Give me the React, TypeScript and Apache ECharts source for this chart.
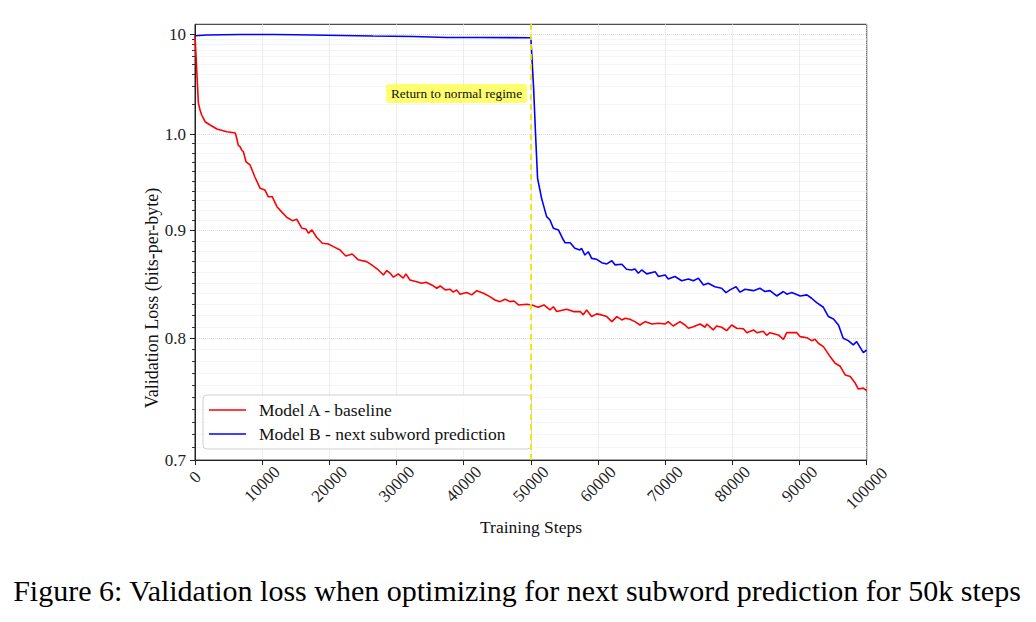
import React, { useEffect, useRef } from 'react';
import * as echarts from 'echarts';

// ---------- data ----------
const stepsA = [0, 500, 750, 1000, 1250, 1500, 2250, 3250, 4750, 6000, 6200, 6450, 6700, 6950, 7200, 7600, 8200, 8900, 9700, 10400, 10900, 11500, 12200, 12900, 13650, 14500, 15150, 15900, 16500, 16900, 17400, 18100, 18950, 19850, 20600, 21600, 22450, 23400, 24300, 25550, 26300, 27300, 28050, 28550, 29050, 29550, 30250, 31000, 31400, 32000, 33000, 33750, 34400, 35250, 36000, 36500, 37250, 37950, 38450, 38950, 39450, 40450, 41200, 41950, 42950, 43900, 44650, 45400, 46150, 46900, 47500, 48150, 49400, 50150, 51100, 51950, 52850, 53350, 53850, 55350, 56350, 57350, 57800, 58300, 59050, 59800, 60550, 61300, 62050, 62800, 63550, 64050, 64750, 65500, 66250, 67000, 68000, 69000, 70000, 70450, 71200, 72200, 72950, 73450, 74200, 75200, 75950, 76200, 77150, 77650, 78400, 79150, 79900, 80650, 81650, 82150, 83150, 83650, 84600, 85100, 85600, 86850, 87600, 88100, 89600, 90100, 91100, 91800, 92300, 92800, 93550, 94550, 95300, 96050, 96800, 97550, 98250, 98750, 99500, 100000];
const lossA = [9.8, 2.06, 1.75, 1.56, 1.445, 1.336, 1.239, 1.13, 1.062, 1.03, 0.996, 0.988, 0.9865, 0.983, 0.981, 0.9704, 0.967, 0.9546, 0.9426, 0.9409, 0.934, 0.934, 0.9238, 0.9186, 0.9132, 0.9098, 0.9112, 0.9023, 0.9016, 0.8973, 0.9006, 0.8934, 0.8876, 0.8869, 0.8843, 0.8811, 0.8753, 0.8772, 0.8716, 0.8699, 0.8668, 0.862, 0.8573, 0.8614, 0.8589, 0.8552, 0.8583, 0.8543, 0.8583, 0.8526, 0.851, 0.8496, 0.8505, 0.848, 0.8449, 0.847, 0.8434, 0.844, 0.8413, 0.8434, 0.8394, 0.8409, 0.8388, 0.8427, 0.8403, 0.8372, 0.8341, 0.8326, 0.8348, 0.8326, 0.8332, 0.8296, 0.8302, 0.8296, 0.8275, 0.8296, 0.8251, 0.828, 0.8236, 0.8257, 0.8236, 0.8236, 0.8206, 0.8251, 0.8191, 0.8215, 0.8206, 0.8191, 0.8146, 0.8191, 0.8161, 0.8176, 0.8167, 0.8146, 0.8116, 0.8146, 0.8125, 0.8131, 0.8125, 0.8146, 0.8107, 0.8146, 0.8116, 0.8087, 0.8101, 0.8125, 0.8096, 0.8125, 0.8072, 0.8107, 0.8096, 0.8066, 0.8116, 0.8087, 0.8083, 0.8048, 0.8072, 0.8048, 0.806, 0.8025, 0.8048, 0.8028, 0.799, 0.8048, 0.8048, 0.8013, 0.8004, 0.7978, 0.799, 0.7955, 0.7926, 0.784, 0.7783, 0.7757, 0.7684, 0.767, 0.7619, 0.7566, 0.7574, 0.7554];

const stepsB = [0, 1750, 6700, 11650, 14900, 19600, 26500, 32500, 37500, 42450, 50000, 50400, 50700, 51000, 51600, 52350, 52850, 53350, 54100, 54850, 55100, 55850, 56550, 57300, 57550, 58050, 58550, 59050, 59800, 60550, 61300, 62050, 62550, 63550, 64250, 65000, 65500, 66000, 66500, 67250, 68500, 69000, 70000, 70450, 71450, 72450, 73450, 74200, 74950, 75700, 76400, 77400, 78400, 79050, 79650, 80550, 81150, 81900, 83150, 84100, 84850, 85600, 86600, 87600, 88100, 88850, 90100, 91100, 91800, 92550, 93550, 94300, 95050, 95800, 96500, 97250, 98000, 98500, 99500, 100000];
const lossB = [9.68, 9.84, 9.95, 9.95, 9.9, 9.8, 9.6, 9.5, 9.3, 9.3, 9.25, 3.0, 1.0, 0.953, 0.9323, 0.9138, 0.9105, 0.9022, 0.9006, 0.8907, 0.8881, 0.8881, 0.8827, 0.8811, 0.8827, 0.8762, 0.8794, 0.873, 0.8721, 0.8689, 0.8677, 0.8707, 0.8668, 0.8674, 0.8627, 0.862, 0.8629, 0.8589, 0.862, 0.8583, 0.8604, 0.8558, 0.8573, 0.8535, 0.8558, 0.8519, 0.8535, 0.8518, 0.8543, 0.848, 0.8496, 0.8463, 0.8449, 0.8409, 0.8434, 0.8463, 0.8413, 0.844, 0.8427, 0.8449, 0.8419, 0.8427, 0.8378, 0.8419, 0.8394, 0.8409, 0.8378, 0.8388, 0.8357, 0.8317, 0.8275, 0.8191, 0.817, 0.8116, 0.7999, 0.7978, 0.7941, 0.7969, 0.7874, 0.7897];

const seriesNames = ['Model A - baseline', 'Model B - next subword prediction'];
const yTickValues = [0.7, 0.8, 0.9, 1.0, 10];
const yTickLabels = ['0.7', '0.8', '0.9', '1.0', '10'];
const yMinorValues = [
  0.71, 0.72, 0.73, 0.74, 0.75, 0.76, 0.77, 0.78, 0.79,
  0.81, 0.82, 0.83, 0.84, 0.85, 0.86, 0.87, 0.88, 0.89,
  0.91, 0.92, 0.93, 0.94, 0.95, 0.96, 0.97, 0.98, 0.99,
  2, 3, 4, 5, 6, 7, 8, 9,
];
const switchStep = 50000;
const annotationText = 'Return to normal regime';
const xTitle = 'Training Steps';
const yTitle = 'Validation Loss (bits-per-byte)';
const caption = 'Figure 6: Validation loss when optimizing for next subword prediction for 50k steps';

// piecewise log scale: strongly compressed above 1.0, stretched below
const UPPER_DECADE = 100;
const LOWER_DECADE = 2103;
const tf = (v: number) => (v >= 1 ? UPPER_DECADE * Math.log10(v) : LOWER_DECADE * Math.log10(v));

const FONT = '"Liberation Serif", "Times New Roman", serif';

export default function App() {
  const ref = useRef<HTMLDivElement>(null);
  useEffect(() => {
    if (!ref.current) return;
    const chart = echarts.init(ref.current, null, { renderer: 'svg' });
    const yMin = tf(0.7);
    const yMax = tf(10) + 10;
    const majorT = yTickValues.map(tf);
    const minorT = yMinorValues.map(tf);
    const labelFor = (t: number) => {
      let best = 0;
      majorT.forEach((m, i) => {
        if (Math.abs(m - t) < Math.abs(majorT[best] - t)) best = i;
      });
      return yTickLabels[best];
    };
    const dataA = stepsA.map((s, i) => [s, tf(lossA[i])]);
    const dataB = stepsB.map((s, i) => [s, tf(lossB[i])]);

    chart.setOption({
      animation: false,
      backgroundColor: '#ffffff',
      grid: {
        left: 195, top: 24.3, width: 671.7, height: 435.8,
        show: true, borderColor: '#222', borderWidth: 1, backgroundColor: 'transparent',
      },
      legend: {
        orient: 'vertical',
        left: 203, top: 395,
        padding: [6, 26, 6, 6],
        icon: 'rect',
        itemWidth: 37, itemHeight: 1.6, itemGap: 6,
        borderColor: '#d0d0d0', borderWidth: 1, borderRadius: 4,
        backgroundColor: 'rgba(255,255,255,0.85)',
        data: seriesNames,
        formatter: (n: string) => '{p|' + n + '}',
        textStyle: {
          fontFamily: FONT, fontSize: 17.5, color: '#111',
          rich: { p: { fontFamily: FONT, fontSize: 17.5, color: '#111', padding: [0, 0, 0, 8] } },
        },
      },
      xAxis: {
        type: 'value', min: 0, max: 100000, interval: 10000,
        axisLine: { show: true, onZero: false, lineStyle: { color: '#222', width: 1 } },
        axisTick: { show: true, length: 5, lineStyle: { color: '#222' } },
        splitLine: { show: true, lineStyle: { color: '#dadada', type: 'dotted', width: 1 } },
        axisLabel: {
          rotate: 45, margin: 24, align: 'center', verticalAlign: 'middle',
          fontFamily: FONT, fontSize: 17, color: '#222', hideOverlap: false,
          showMinLabel: true, showMaxLabel: true,
          formatter: (v: number) => (v === 0 ? '{z|0}' : v === 100000 ? '{w|100000}' : '{n|' + v + '}'),
          rich: {
            z: { fontFamily: FONT, fontSize: 17, color: '#222', padding: [0, 0, 10, 10] },
            w: { fontFamily: FONT, fontSize: 17, color: '#222', padding: [6, 6, 0, 0] },
            n: { fontFamily: FONT, fontSize: 17, color: '#222' },
          },
        },
      },
      yAxis: [
        {
          type: 'value', min: yMin, max: yMax, position: 'left',
          axisLine: { show: true, onZero: false, lineStyle: { color: '#222', width: 1 } },
          axisTick: { show: true, length: 5, customValues: majorT, lineStyle: { color: '#222' } },
          axisLabel: {
            show: true, customValues: majorT, margin: 9,
            fontFamily: FONT, fontSize: 17, color: '#222',
            formatter: (v: number) => labelFor(v),
          },
          splitLine: { show: true, lineStyle: { color: '#dadada', type: 'dotted', width: 1 } },
        },
        {
          type: 'value', min: yMin, max: yMax, position: 'left',
          axisLine: { show: false, onZero: false },
          axisTick: { show: true, length: 3, customValues: minorT, lineStyle: { color: '#333' } },
          axisLabel: { show: false },
          splitLine: { show: true, lineStyle: { color: '#f2f2f2', type: 'solid', width: 0.8 } },
        },
      ],
      series: [
        {
          name: seriesNames[0], type: 'line', yAxisIndex: 0, data: dataA,
          symbol: 'none', lineStyle: { color: '#ff0000', width: 1.6 }, itemStyle: { color: '#ff0000' },
          z: 3,
        },
        {
          name: seriesNames[1], type: 'line', yAxisIndex: 0, data: dataB,
          symbol: 'none', lineStyle: { color: '#0000ff', width: 1.6 }, itemStyle: { color: '#0000ff' },
          z: 4,
          markLine: {
            silent: true, symbol: 'none', label: { show: false },
            lineStyle: { color: '#f2e600', type: [6, 4], width: 1.8 },
            data: [{ xAxis: switchStep }],
            z: 5,
          },
        },
      ],
      graphic: [
        {
          type: 'text', x: 386, y: 84, z: 10,
          style: {
            text: annotationText, font: '13.3px ' + FONT, fill: '#111',
            backgroundColor: 'rgba(255,255,60,0.75)', padding: [3, 5, 3, 5], borderRadius: 3,
          },
        },
        {
          type: 'text', x: 152, y: 298, rotation: Math.PI / 2,
          style: { text: yTitle, font: '18px ' + FONT, fill: '#111', textAlign: 'center', textVerticalAlign: 'middle' },
        },
        {
          type: 'text', x: 531, y: 527,
          style: { text: xTitle, font: '17.5px ' + FONT, fill: '#111', textAlign: 'center', textVerticalAlign: 'middle' },
        },
        {
          type: 'text', x: 517, y: 590,
          style: { text: caption, font: '30px ' + FONT, fill: '#000', textAlign: 'center', textVerticalAlign: 'middle' },
        },
      ],
    });
    return () => chart.dispose();
  }, []);
  return <div ref={ref} style={{ position: 'absolute', left: 0, top: 0, width: 1036, height: 622 }} />;
}
